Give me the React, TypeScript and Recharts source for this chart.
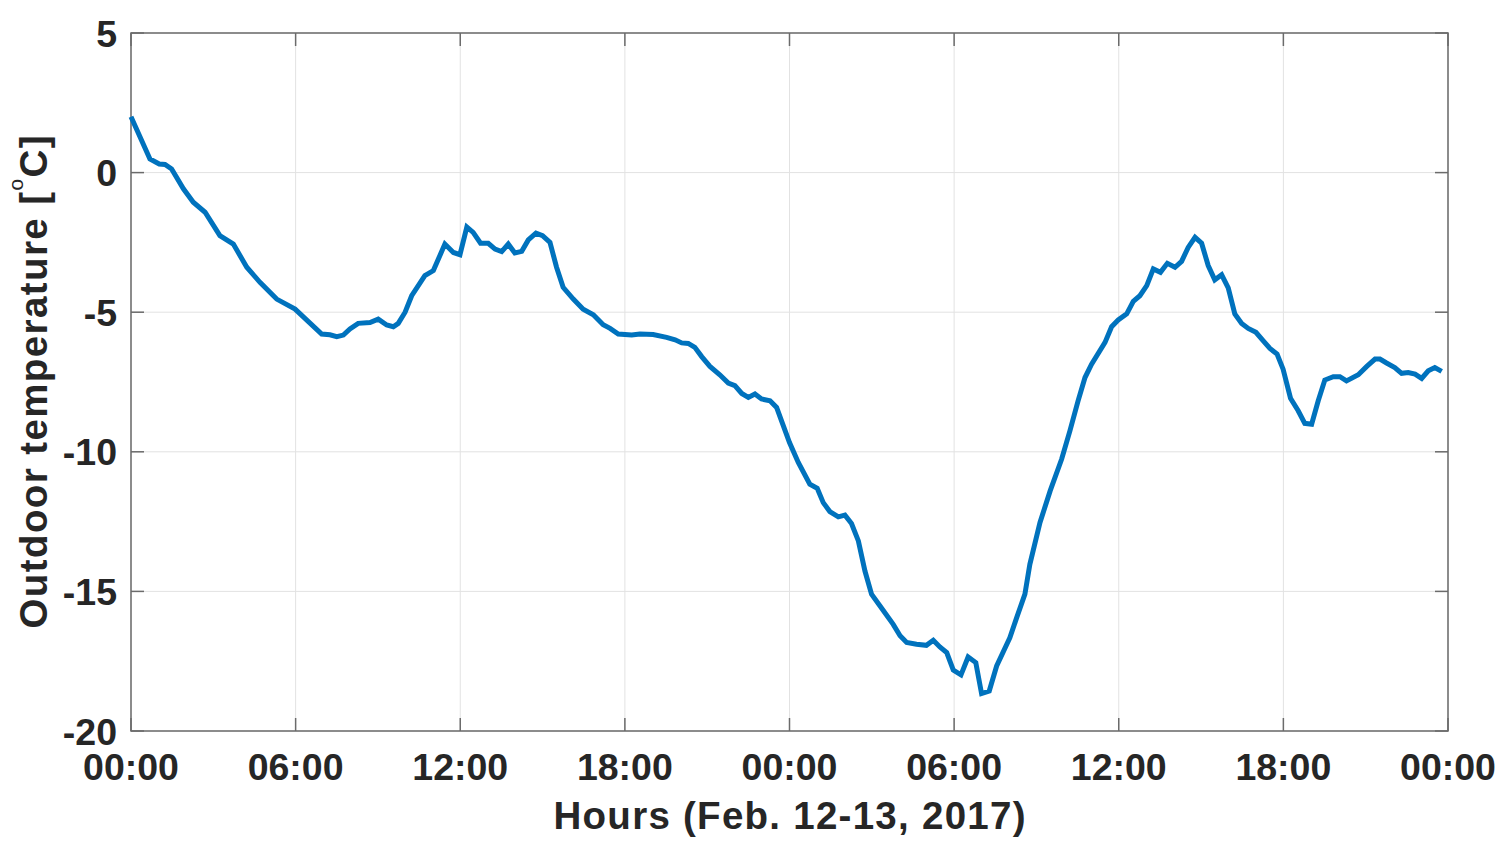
import React from "react";
import { LineChart, Line, XAxis, YAxis, CartesianGrid, ReferenceArea } from "recharts";

// hours since Feb 12, 00:00 and the outdoor temperature
const hours = [
  0, 0.69, 1.03, 1.24, 1.48, 1.91, 2.27, 2.7, 3.24, 3.73, 4.22, 4.7, 5.31, 5.98,
  6.95, 7.25, 7.5, 7.74, 7.98, 8.28, 8.71, 9.01, 9.32, 9.56, 9.74, 9.99, 10.23,
  10.71, 11.02, 11.44, 11.75, 11.99, 12.24, 12.47, 12.74, 13.02, 13.27, 13.51,
  13.75, 13.99, 14.24, 14.48, 14.76, 15.0, 15.27, 15.51, 15.75, 16.12, 16.48,
  16.85, 17.21, 17.46, 17.76, 18.25, 18.55, 19.03, 19.52, 19.83, 20.07, 20.31,
  20.55, 20.8, 21.1, 21.46, 21.77, 22.01, 22.26, 22.5, 22.74, 22.98, 23.29,
  23.53, 23.75, 24.0, 24.32, 24.74, 25.01, 25.23, 25.47, 25.78, 26.02, 26.26,
  26.51, 26.75, 26.99, 27.3, 27.78, 28.03, 28.27, 28.63, 28.99, 29.24, 29.48,
  29.73, 29.97, 30.25, 30.51, 30.79, 31.0, 31.28, 31.55, 32.03, 32.28, 32.58,
  32.76, 33.13, 33.5, 33.92, 34.22, 34.52, 34.77, 35.01, 35.5, 35.74, 35.98,
  36.29, 36.53, 36.77, 37.02, 37.26, 37.52, 37.77, 38.05, 38.29, 38.53, 38.78,
  39.02, 39.26, 39.5, 39.75, 39.99, 40.23, 40.48, 40.72, 41.0, 41.26, 41.51,
  41.77, 41.99, 42.26, 42.54, 42.78, 43.03, 43.27, 43.51, 43.82, 44.06, 44.3,
  44.73, 45.03, 45.34, 45.52, 45.76, 46.06, 46.31, 46.55, 46.8, 47.04, 47.28,
  47.52, 47.77,
];

const temps = [
  2.0, 0.49, 0.31, 0.29, 0.13, -0.58, -1.06, -1.42, -2.26, -2.56, -3.39, -3.93,
  -4.53, -4.89, -5.78, -5.81, -5.88, -5.82, -5.6, -5.4, -5.37, -5.25, -5.46,
  -5.52, -5.4, -5.0, -4.41, -3.69, -3.51, -2.56, -2.86, -2.94, -1.95, -2.14,
  -2.53, -2.53, -2.74, -2.83, -2.56, -2.88, -2.82, -2.41, -2.17, -2.26, -2.5,
  -3.39, -4.11, -4.53, -4.89, -5.09, -5.45, -5.58, -5.78, -5.82, -5.78, -5.8,
  -5.9, -5.99, -6.1, -6.12, -6.26, -6.59, -6.94, -7.24, -7.54, -7.63, -7.91,
  -8.05, -7.93, -8.11, -8.17, -8.41, -9.0, -9.67, -10.38, -11.16, -11.31,
  -11.82, -12.14, -12.33, -12.27, -12.57, -13.19, -14.27, -15.1, -15.52, -16.18,
  -16.59, -16.83, -16.89, -16.93, -16.75, -16.99, -17.19, -17.82, -17.99,
  -17.35, -17.55, -18.66, -18.57, -17.67, -16.66, -15.94, -15.1, -14.03,
  -12.53, -11.4, -10.26, -9.25, -8.17, -7.34, -6.86, -6.08, -5.52, -5.28,
  -5.06, -4.61, -4.41, -4.05, -3.45, -3.57, -3.25, -3.39, -3.18, -2.68, -2.32,
  -2.53, -3.33, -3.84, -3.66, -4.13, -5.06, -5.4, -5.58, -5.72, -6.02, -6.3,
  -6.5, -7.04, -8.08, -8.53, -8.98, -9.01, -8.17, -7.43, -7.31, -7.31, -7.46,
  -7.24, -6.95, -6.68, -6.68, -6.82, -6.98, -7.19, -7.16, -7.22, -7.37, -7.1,
  -6.98, -7.12,
];

const xTicks = [0, 6, 12, 18, 24, 30, 36, 42, 48];
const xTickLabels = ["00:00", "06:00", "12:00", "18:00", "00:00", "06:00", "12:00", "18:00", "00:00"];
const yTicks = [-20, -15, -10, -5, 0, 5];

const data = hours.map((h, i) => ({ h, t: temps[i] }));

const FONT = '"Liberation Sans", Arial, Helvetica, sans-serif';
const TEXT = "#262626";
const BOX = "#6b6b6b";
const TICK_LEN = 13;
// plot box size, used to mirror the inward ticks on the top and right edges
const PLOT_W = 1317;
const PLOT_H = 698;

function BottomTick(props: any) {
  const { x, y, payload } = props;
  const i = xTicks.indexOf(payload.value);
  return (
    <g>
      <line x1={x} y1={y} x2={x} y2={y - TICK_LEN} stroke={BOX} strokeWidth={1.5} />
      <line x1={x} y1={y - PLOT_H} x2={x} y2={y - PLOT_H + TICK_LEN} stroke={BOX} strokeWidth={1.5} />
      <text x={x} y={y + 49} textAnchor="middle" fontFamily={FONT} fontWeight="bold" fontSize={37.5} fill={TEXT}>
        {xTickLabels[i]}
      </text>
    </g>
  );
}

function LeftTick(props: any) {
  const { x, y, payload } = props;
  return (
    <g>
      <line x1={x} y1={y} x2={x + TICK_LEN} y2={y} stroke={BOX} strokeWidth={1.5} />
      <line x1={x + PLOT_W} y1={y} x2={x + PLOT_W - TICK_LEN} y2={y} stroke={BOX} strokeWidth={1.5} />
      <text x={x - 14} y={y + 13.5} textAnchor="end" fontFamily={FONT} fontWeight="bold" fontSize={37.5} fill={TEXT}>
        {payload.value}
      </text>
    </g>
  );
}

function XLabel(props: any) {
  const vb = props.viewBox;
  return (
    <text
      x={vb.x + vb.width / 2}
      y={vb.y + 97.5}
      textAnchor="middle"
      fontFamily={FONT}
      fontWeight="bold"
      fontSize={38.5}
      fill={TEXT}
      textLength={472}
      lengthAdjust="spacing"
    >
      Hours (Feb. 12-13, 2017)
    </text>
  );
}

function YLabel(props: any) {
  const vb = props.viewBox;
  const cx = 47;
  const cy = vb.y + vb.height / 2;
  return (
    <text
      x={cx}
      y={cy}
      transform={`rotate(-90 ${cx} ${cy})`}
      textAnchor="middle"
      fontFamily={FONT}
      fontWeight="bold"
      fontSize={38.5}
      fill={TEXT}
      textLength={493}
      lengthAdjust="spacing"
    >
      <tspan>Outdoor temperature [</tspan>
      <tspan dy={-24} fontSize={21} fontWeight="normal">o</tspan>
      <tspan dy={24}>C]</tspan>
    </text>
  );
}

export default function App() {
  return (
    <div style={{ position: "absolute", left: 0, top: 0, width: 1510, height: 850, background: "#fff" }}>
      <LineChart width={1510} height={850} data={data} margin={{ top: 33, right: 62, bottom: 0, left: 0 }}>
        <CartesianGrid stroke="#e2e2e2" strokeWidth={1} />
        <XAxis
          dataKey="h"
          type="number"
          domain={[0, 48]}
          ticks={xTicks}
          interval={0}
          height={119}
          tickSize={0}
          tickMargin={0}
          tickLine={false}
          axisLine={false}
          tick={<BottomTick />}
          label={<XLabel />}
        />
        <YAxis
          type="number"
          domain={[-20, 5]}
          ticks={yTicks}
          interval={0}
          width={131}
          tickSize={0}
          tickMargin={0}
          tickLine={false}
          axisLine={false}
          tick={<LeftTick />}
          label={<YLabel />}
        />
        <ReferenceArea x1={0} x2={48} y1={-20} y2={5} fill="none" stroke={BOX} strokeWidth={1.5} ifOverflow="visible" />
        <Line
          type="linear"
          dataKey="t"
          stroke="#0072BD"
          strokeWidth={5}
          dot={false}
          activeDot={false}
          isAnimationActive={false}
        />
      </LineChart>
    </div>
  );
}
